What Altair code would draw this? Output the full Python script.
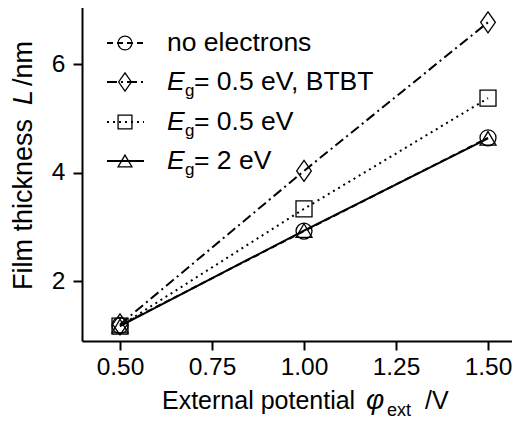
import altair as alt
import pandas as pd

# ---- data ----
x_vals = [0.5, 1.0, 1.5]
no_electrons = [1.18, 2.92, 4.64]
eg05_btbt = [1.20, 4.03, 6.77]
eg05 = [1.17, 3.33, 5.37]
eg2 = [1.17, 2.93, 4.63]

series_values = [no_electrons, eg05_btbt, eg05, eg2]
legend_plain = ["no electrons", None, None, None]
legend_suffix = ["", "= 0.5 eV, BTBT", "= 0.5 eV", "= 2 eV"]
x_ticks = [0.5, 0.75, 1.0, 1.25, 1.5]
y_ticks = [2, 4, 6]

# ---- layout / style ----
W, H = 430, 335
X_DOMAIN = [0.3967, 1.5652]
Y_DOMAIN = [0.894, 7.07]
FONT = "Liberation Sans"
FS = 24.5     # tick labels
XFS = 25      # x title
LFS = 26.5    # legend text
YFS = 27      # y title
SUB = 17

DIAMOND = "M0,-1L0.7,0L0,1L-0.7,0Z"
TRIANGLE = "M0,-0.85L1,0.85L-1,0.85Z"
styles = [
    dict(shape="circle", dash=[6, 4], size=256),
    dict(shape=DIAMOND, dash=[10, 4, 2, 4], size=441),
    dict(shape="square", dash=[2, 4], size=256),
    dict(shape=TRIANGLE, dash=None, size=256),
]

xs = alt.Scale(domain=X_DOMAIN, nice=False, zero=False)
ys = alt.Scale(domain=Y_DOMAIN, nice=False, zero=False)
axis_style = dict(title=None, grid=False, tickSize=9, labelFont=FONT,
                  labelFontSize=FS, labelColor="black", domainColor="black",
                  domainWidth=2, tickColor="black", tickWidth=2)
xaxis = alt.Axis(values=x_ticks, format=".2f", labelPadding=5, **axis_style)
yaxis = alt.Axis(values=y_ticks, format="d", labelPadding=8, **axis_style)

layers = []
for vals, st in zip(series_values, styles):
    df = pd.DataFrame({"x": x_vals, "y": vals})
    base = alt.Chart(df).encode(
        x=alt.X("x:Q", scale=xs, axis=xaxis),
        y=alt.Y("y:Q", scale=ys, axis=yaxis),
    )
    lkw = dict(color="black", strokeWidth=2)
    if st["dash"]:
        lkw["strokeDash"] = st["dash"]
    layers.append(base.mark_line(**lkw))
    layers.append(base.mark_point(shape=st["shape"], size=st["size"], filled=False,
                                  color="black", strokeWidth=1.3, opacity=1))

one = pd.DataFrame({"a": [0]})

# top frame line
layers.append(alt.Chart(one).mark_rule(color="black", strokeWidth=2).encode(
    x=alt.value(0), x2=alt.value(W), y=alt.value(0)))

# ---- legend ----
LEG_Y = [37, 76, 116, 155]
LX0, LX1, LXS, LXT = 25, 62, 43, 85
for i, st in enumerate(styles):
    yc = LEG_Y[i]
    rkw = dict(color="black", strokeWidth=2)
    if st["dash"]:
        rkw["strokeDash"] = st["dash"]
    layers.append(alt.Chart(one).mark_rule(**rkw).encode(
        x=alt.value(LX0), x2=alt.value(LX1), y=alt.value(yc)))
    layers.append(alt.Chart(one).mark_point(
        shape=st["shape"], size=st["size"] * 0.75, filled=False, color="black",
        strokeWidth=1.3, opacity=1).encode(x=alt.value(LXS), y=alt.value(yc)))
    if legend_plain[i]:
        layers.append(alt.Chart(one).mark_text(
            text=legend_plain[i], font=FONT, fontSize=LFS, align="left",
            baseline="alphabetic", color="black").encode(
            x=alt.value(LXT), y=alt.value(yc + 8)))
    else:
        layers.append(alt.Chart(one).mark_text(
            text="E", font=FONT, fontSize=LFS, fontStyle="italic", align="left",
            baseline="alphabetic", color="black").encode(
            x=alt.value(LXT), y=alt.value(yc + 8)))
        layers.append(alt.Chart(one).mark_text(
            text="g", font=FONT, fontSize=SUB, align="left",
            baseline="alphabetic", color="black").encode(
            x=alt.value(LXT + 18), y=alt.value(yc + 14)))
        layers.append(alt.Chart(one).mark_text(
            text=legend_suffix[i], font=FONT, fontSize=LFS, align="left",
            baseline="alphabetic", color="black").encode(
            x=alt.value(LXT + 27), y=alt.value(yc + 8)))

# ---- axis titles (built from pieces for italics / subscripts) ----
def txt(s, x, y, size=XFS, italic=False, angle=None):
    kw = dict(text=s, font=FONT, fontSize=size, align="left",
              baseline="alphabetic", color="black")
    if italic:
        kw["fontStyle"] = "italic"
    if angle is not None:
        kw["angle"] = angle
    return alt.Chart(one).mark_text(**kw).encode(x=alt.value(x), y=alt.value(y))

XT_Y = 403
layers += [
    txt("External potential", 80, XT_Y),
    txt("φ", 284, XT_Y, size=28, italic=True),
    txt("ext", 305, XT_Y + 7, size=18),
    txt("/V", 343, XT_Y),
]
YT_X = -50
layers += [
    txt("Film thickness", YT_X, 284, size=YFS, angle=270),
    txt("L", YT_X, 99, size=YFS, italic=True, angle=270),
    txt("/nm", YT_X, 80, size=YFS, angle=270),
]

chart = alt.layer(*layers).properties(
    width=W, height=H,
    background="white",
    autosize=alt.AutoSizeParams(type="none"),
    padding={"left": 74, "top": -2, "right": 0, "bottom": 78},
).configure_view(stroke=None)

chart.save("out.html", embed_options={"renderer": "svg", "actions": False})
